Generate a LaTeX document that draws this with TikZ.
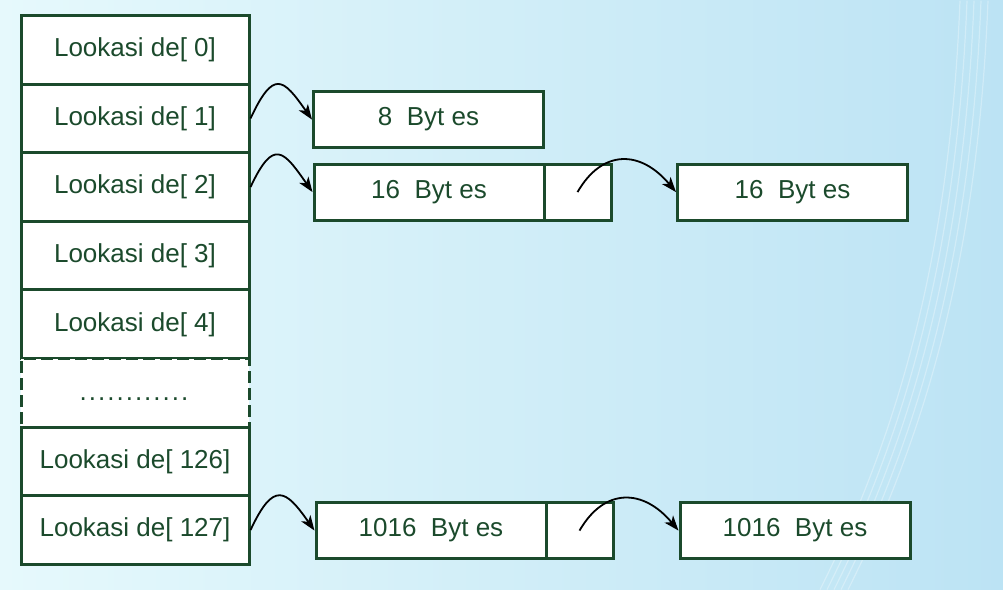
\documentclass[tikz,border=0pt]{standalone}
\usepackage{fontspec}
\setmainfont{Liberation Sans}
\usetikzlibrary{arrows.meta}
\definecolor{cellline}{HTML}{1B4A2C}
\definecolor{bgleft}{HTML}{E6F9FC}
\definecolor{bgright}{HTML}{BCE3F4}
\tikzset{
  cell/.style={draw=cellline, line width=3pt, fill=white, text=cellline,
    minimum width=228pt, minimum height=68.6pt, inner sep=0pt,
    font=\fontsize{26}{30}\selectfont},
  gapcell/.style={cell, dash pattern=on 12pt off 5pt, text height=16pt, text depth=0pt},
  blockbox/.style={cell, minimum width=230pt, minimum height=56pt},
  linkcell/.style={cell, minimum width=67pt, minimum height=56pt},
  link/.style={-{Stealth[length=15pt,width=11pt,inset=4pt]}, line width=1.8pt, black},
}

\begin{document}
\begin{tikzpicture}[x=1pt,y=-1pt]
% background
\shade[left color=bgleft, right color=bgright] (0,0) rectangle (1003,589);
\foreach \d in {0,7,14,21,28}
  \draw[white, opacity=0.3, line width=1.2pt]
    ({960+\d},0) .. controls ({950+\d},250) and ({900+\d},430) .. ({820+\d},589);
\useasboundingbox (0,0) rectangle (1003,589);

% table of lists
\foreach \lbl [count=\i from 0] in {0,1,2,3,4}
  \node[cell] (row\i) at (135,{15+68.6*(\i+0.5)}) {Lookasi de[ \lbl]};
\node[gapcell] (rowgap) at (135,{15+68.6*5.5})
  {\foreach \k in {1,...,12}{.\kern2pt}};
\node[cell] (row126) at (135,{15+68.6*6.5}) {Lookasi de[ 126]};
\node[cell] (row127) at (135,{15+68.6*7.5}) {Lookasi de[ 127]};

% blocks
\node[blockbox] (blk8) at (428.5,119) {8\ \ Byt es};
\node[blockbox] (blk16a) at (429,191.5) {16\ \ Byt es};
\node[linkcell] (ptr16) at (577.5,191.5) {};
\node[blockbox] (blk16b) at (792.5,191.5) {16\ \ Byt es};
\node[blockbox] (blk1016a) at (431,530) {1016\ \ Byt es};
\node[linkcell] (ptr1016) at (579.5,530) {};
\node[blockbox] (blk1016b) at (795,530) {1016\ \ Byt es};

% links (y axis points down, so angles are negative)
\draw[link] (row1.east) .. controls +(-65:55) and +(-125:50) .. (blk8.west);
\draw[link] (row2.east) .. controls +(-65:55) and +(-125:50) .. (blk16a.west);
\draw[link] (ptr16.center) .. controls +(-60:50) and +(-130:55) .. (blk16b.west);
\draw[link] (row127.east) .. controls +(-65:55) and +(-125:50) .. (blk1016a.west);
\draw[link] (ptr1016.center) .. controls +(-60:50) and +(-130:55) .. (blk1016b.west);
\end{tikzpicture}
\end{document}
